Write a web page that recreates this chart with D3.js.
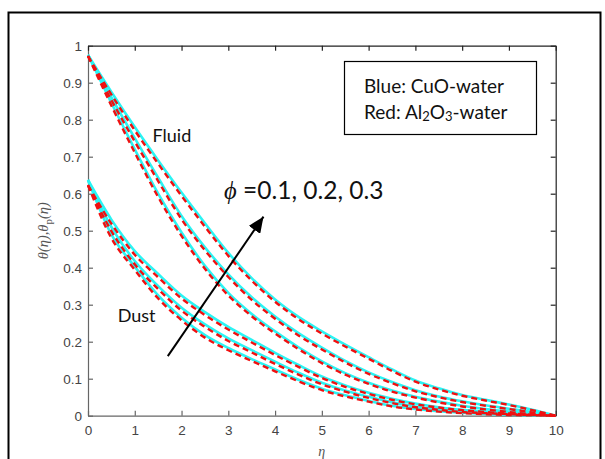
<!DOCTYPE html>
<html>
<head>
<meta charset="utf-8">
<script src="https://cdn.jsdelivr.net/npm/d3@7"></script>
<style>
  body { margin: 0; background: #fff; }
  svg { display: block; }
</style>
</head>
<body>
<svg id="chart" width="605" height="459"></svg>
<script>
var eta = [0, 0.5, 1, 1.5, 2, 2.5, 3, 3.5, 4, 4.5, 5, 5.5, 6, 6.5, 7, 7.5, 8, 8.5, 9, 9.5, 10];

var xTicks = [0, 1, 2, 3, 4, 5, 6, 7, 8, 9, 10];
var yTicks = [0, 0.1, 0.2, 0.3, 0.4, 0.5, 0.6, 0.7, 0.8, 0.9, 1];
var yTickLabels = ['0', '0.1', '0.2', '0.3', '0.4', '0.5', '0.6', '0.7', '0.8', '0.9', '1'];

// fluid temperature, CuO-water (cyan) and Al2O3-water (red), phi = 0.1, 0.2, 0.3
var fluidCuO1 = [0.975, 0.845, 0.72, 0.60, 0.495, 0.405, 0.332, 0.275, 0.228, 0.185, 0.147, 0.115, 0.089, 0.068, 0.051, 0.038, 0.027, 0.018, 0.011, 0.005, 0];
var fluidCuO2 = [0.975, 0.86, 0.75, 0.643, 0.54, 0.455, 0.382, 0.32, 0.268, 0.223, 0.184, 0.148, 0.117, 0.091, 0.069, 0.052, 0.039, 0.028, 0.019, 0.01, 0];
var fluidCuO3 = [0.975, 0.875, 0.78, 0.69, 0.603, 0.52, 0.44, 0.372, 0.314, 0.267, 0.228, 0.192, 0.158, 0.125, 0.095, 0.074, 0.056, 0.043, 0.030, 0.016, 0];
var fluidAl1 = [0.972, 0.838, 0.711, 0.591, 0.486, 0.397, 0.325, 0.269, 0.222, 0.180, 0.142, 0.111, 0.086, 0.065, 0.049, 0.036, 0.025, 0.017, 0.010, 0.004, 0];
var fluidAl2 = [0.972, 0.853, 0.741, 0.634, 0.531, 0.447, 0.375, 0.313, 0.262, 0.217, 0.179, 0.144, 0.113, 0.088, 0.066, 0.050, 0.037, 0.027, 0.018, 0.009, 0];
var fluidAl3 = [0.972, 0.868, 0.771, 0.681, 0.594, 0.511, 0.432, 0.365, 0.308, 0.261, 0.222, 0.187, 0.154, 0.121, 0.092, 0.071, 0.054, 0.041, 0.029, 0.015, 0];

// dust temperature
var dustCuO1 = [0.637, 0.49, 0.403, 0.325, 0.265, 0.218, 0.183, 0.153, 0.125, 0.097, 0.073, 0.055, 0.04, 0.027, 0.018, 0.012, 0.008, 0.005, 0.003, 0.001, 0];
var dustCuO2 = [0.637, 0.51, 0.418, 0.35, 0.292, 0.247, 0.209, 0.177, 0.146, 0.116, 0.089, 0.068, 0.051, 0.036, 0.025, 0.017, 0.011, 0.008, 0.005, 0.002, 0];
var dustCuO3 = [0.637, 0.53, 0.445, 0.383, 0.325, 0.28, 0.24, 0.205, 0.17, 0.137, 0.106, 0.082, 0.062, 0.046, 0.033, 0.023, 0.016, 0.011, 0.007, 0.003, 0];
var dustAl1 = [0.623, 0.480, 0.394, 0.317, 0.258, 0.211, 0.177, 0.148, 0.120, 0.093, 0.069, 0.052, 0.038, 0.025, 0.017, 0.011, 0.007, 0.004, 0.002, 0.001, 0];
var dustAl2 = [0.623, 0.499, 0.409, 0.342, 0.284, 0.240, 0.202, 0.171, 0.140, 0.111, 0.085, 0.065, 0.048, 0.034, 0.023, 0.016, 0.010, 0.007, 0.004, 0.002, 0];
var dustAl3 = [0.623, 0.519, 0.435, 0.374, 0.317, 0.272, 0.233, 0.198, 0.164, 0.132, 0.102, 0.078, 0.059, 0.043, 0.031, 0.022, 0.015, 0.010, 0.006, 0.003, 0];

var cyanSeries = [fluidCuO1, fluidCuO2, fluidCuO3, dustCuO1, dustCuO2, dustCuO3];
var redSeries = [fluidAl1, fluidAl2, fluidAl3, dustAl1, dustAl2, dustAl3];

var svg = d3.select('#chart'),
    margin = {top: 45.7, right: 49.3, bottom: 43.3, left: 88},
    width = +svg.attr('width') - margin.left - margin.right,
    height = +svg.attr('height') - margin.top - margin.bottom;

svg.append('rect')
  .attr('width', 605).attr('height', 459)
  .attr('fill', '#fff');

// outer figure border
svg.append('rect')
  .attr('x', 8.5).attr('y', 12.5)
  .attr('width', 592).attr('height', 470)
  .attr('fill', 'none')
  .attr('stroke', '#000')
  .attr('stroke-width', 2);

var g = svg.append('g')
  .attr('transform', `translate(${margin.left}, ${margin.top})`);

var x = d3.scaleLinear().domain([0, 10]).range([0, width]),
    y = d3.scaleLinear().domain([0, 1]).range([height, 0]);

var line = d3.line()
  .x((d, i) => x(eta[i]))
  .y(d => y(d))
  .curve(d3.curveMonotoneX);

// axes, ticks pointing inward like matlab
var xAxis = g.append('g')
  .attr('transform', `translate(0, ${height})`)
  .call(d3.axisBottom(x).tickValues(xTicks).tickSize(-5).tickSizeOuter(0).tickPadding(10));
var yAxis = g.append('g')
  .call(d3.axisLeft(y).tickValues(yTicks).tickFormat((d, i) => yTickLabels[i]).tickSize(-5).tickSizeOuter(0).tickPadding(6));
var xTop = g.append('g')
  .call(d3.axisTop(x).tickValues(xTicks).tickSize(-5).tickSizeOuter(0).tickFormat(''));
var yRight = g.append('g')
  .attr('transform', `translate(${width}, 0)`)
  .call(d3.axisRight(y).tickValues(yTicks).tickSize(-5).tickSizeOuter(0).tickFormat(''));

[xAxis, yAxis].forEach(a => {
  a.selectAll('path, line').attr('stroke', '#666').attr('stroke-width', 1.2);
  a.selectAll('text')
    .attr('fill', '#444')
    .style('font-family', '"Liberation Sans", Arial, sans-serif')
    .style('font-size', '13.5px');
});
[xTop, yRight].forEach(a => {
  a.selectAll('path, line').attr('stroke', '#222').attr('stroke-width', 1.2);
});

// curves: cyan solid underneath, red dashed on top
g.selectAll('.cuo')
  .data(cyanSeries)
  .enter().append('path')
    .attr('class', 'cuo')
    .attr('fill', 'none')
    .attr('stroke', '#2af4f4')
    .attr('stroke-width', 2.6)
    .attr('d', line);

g.selectAll('.al')
  .data(redSeries)
  .enter().append('path')
    .attr('class', 'al')
    .attr('fill', 'none')
    .attr('stroke', '#f01010')
    .attr('stroke-width', 2.4)
    .attr('stroke-dasharray', '6,4')
    .attr('d', line);

// axis titles
g.append('text')
  .attr('x', width / 2)
  .attr('y', height + 40)
  .attr('text-anchor', 'middle')
  .attr('fill', '#555')
  .style('font-family', '"Liberation Serif", serif')
  .style('font-style', 'italic')
  .style('font-size', '14px')
  .text('η');

var ylab = g.append('text')
  .attr('transform', `translate(-40, ${height / 2}) rotate(-90)`)
  .attr('text-anchor', 'middle')
  .attr('fill', '#555')
  .style('font-family', '"Liberation Serif", serif')
  .style('font-style', 'italic')
  .style('font-size', '14.5px');
ylab.append('tspan').text('θ(η),θ');
ylab.append('tspan').attr('dy', 4).style('font-style', 'normal').style('font-size', '11px').text('p');
ylab.append('tspan').attr('dy', -4).text('(η)');

// annotations
var anno = '"Lato", "Open Sans", sans-serif';

g.append('text')
  .attr('x', x(1.38)).attr('y', y(0.74))
  .attr('fill', '#111')
  .style('font-family', anno).style('font-size', '18px')
  .text('Fluid');

g.append('text')
  .attr('x', x(0.635)).attr('y', y(0.254))
  .attr('fill', '#111')
  .style('font-family', anno).style('font-size', '18px')
  .text('Dust');

var phi = g.append('text')
  .attr('x', x(2.91)).attr('y', y(0.585))
  .attr('fill', '#111')
  .style('font-size', '24.5px');
phi.append('tspan')
  .style('font-family', '"Liberation Serif", "DejaVu Serif", serif')
  .style('font-style', 'italic')
  .text('ϕ');
phi.append('tspan')
  .style('font-family', anno)
  .text(' =0.1, 0.2, 0.3');

svg.append('defs').append('marker')
  .attr('id', 'head')
  .attr('markerUnits', 'userSpaceOnUse')
  .attr('markerWidth', 17).attr('markerHeight', 14)
  .attr('refX', 16).attr('refY', 7)
  .attr('orient', 'auto')
  .append('path')
    .attr('d', 'M0,0 L16,7 L0,14 Z')
    .attr('fill', '#000');

g.append('line')
  .attr('x1', x(1.706)).attr('y1', y(0.161))
  .attr('x2', x(3.752)).attr('y2', y(0.538))
  .attr('stroke', '#000')
  .attr('stroke-width', 2)
  .attr('marker-end', 'url(#head)');

// text box legend
var box = svg.append('g').attr('transform', 'translate(344, 61)');
box.append('rect')
  .attr('x', 0.5).attr('y', 0.5)
  .attr('width', 192).attr('height', 73)
  .attr('fill', '#fff')
  .attr('stroke', '#000')
  .attr('stroke-width', 1.2);
box.append('text')
  .attr('x', 20).attr('y', 32)
  .attr('fill', '#111')
  .style('font-family', anno).style('font-size', '19px')
  .text('Blue: CuO-water');
var red = box.append('text')
  .attr('x', 20).attr('y', 58)
  .attr('fill', '#111')
  .style('font-family', anno).style('font-size', '19px');
red.append('tspan').text('Red: Al');
red.append('tspan').attr('dy', 2).style('font-size', '13px').text('2');
red.append('tspan').attr('dy', -2).text('O');
red.append('tspan').attr('dy', 2).style('font-size', '13px').text('3');
red.append('tspan').attr('dy', -2).text('-water');
</script>
</body>
</html>
